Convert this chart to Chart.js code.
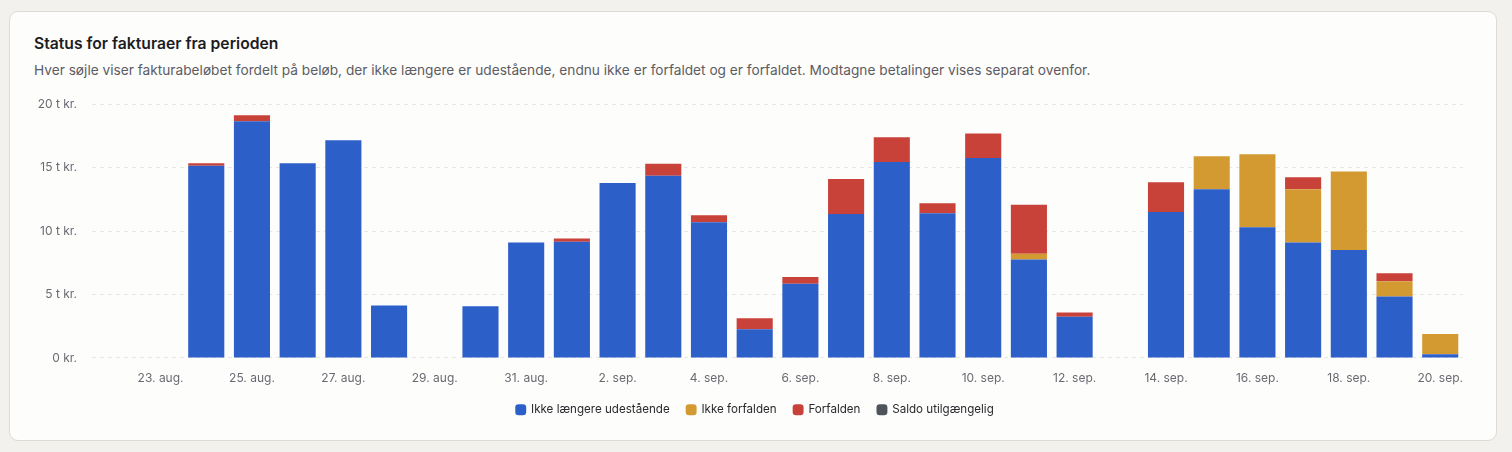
<!DOCTYPE html>
<html lang="da">
<head>
<meta charset="utf-8">
<title>Status for fakturaer fra perioden</title>
<script src="https://cdn.jsdelivr.net/npm/chart.js@4.4.1/dist/chart.umd.min.js"></script>
<style>
  html, body { margin: 0; padding: 0; }
  body {
    width: 1512px; height: 452px; background: #f3f1ed; position: relative;
    font-family: Inter, "Noto Sans", sans-serif; overflow: hidden;
  }
  .card {
    position: absolute; left: 9px; top: 11px; width: 1486px; height: 428px;
    background: #fdfdfc; border: 1px solid #dedbd5; border-radius: 9px;
  }
  h2 {
    position: absolute; left: 24px; top: 22px; margin: 0;
    font-size: 15.7px; font-weight: 600; color: #1c1c1e;
  }
  p.sub {
    position: absolute; left: 24px; top: 50px; margin: 0;
    font-size: 13.7px; color: #5c5c62;
  }
  .wrap { position: absolute; left: 24px; top: 69.5px; width: 1442px; height: 343.5px; }
</style>
</head>
<body>
<div class="card">
  <h2>Status for fakturaer fra perioden</h2>
  <p class="sub">Hver søjle viser fakturabeløbet fordelt på beløb, der ikke længere er udestående, endnu ikke er forfaldet og er forfaldet. Modtagne betalinger vises separat ovenfor.</p>
  <div class="wrap"><canvas id="chart"></canvas></div>
</div>
<script>
const days = [
  "22. aug.", "23. aug.", "24. aug.", "25. aug.", "26. aug.", "27. aug.", "28. aug.", "29. aug.", "30. aug.", "31. aug.",
  "1. sep.", "2. sep.", "3. sep.", "4. sep.", "5. sep.", "6. sep.", "7. sep.", "8. sep.", "9. sep.", "10. sep.",
  "11. sep.", "12. sep.", "13. sep.", "14. sep.", "15. sep.", "16. sep.", "17. sep.", "18. sep.", "19. sep.", "20. sep."
];
// amounts in kr.
const settled = [
  0, 0, 15150, 18650, 15350, 17150, 4130, 0, 4070, 9100,
  9150, 13790, 14350, 10700, 2250, 5850, 11350, 15450, 11400, 15750,
  7750, 3250, 0, 11500, 13300, 10300, 9100, 8500, 4850, 280
];
const notDue = [
  0, 0, 0, 0, 0, 0, 0, 0, 0, 0,
  0, 0, 0, 0, 0, 0, 0, 0, 0, 0,
  470, 0, 0, 0, 2600, 5750, 4200, 6200, 1200, 1600
];
const overdue = [
  0, 0, 200, 470, 0, 0, 0, 0, 0, 0,
  270, 0, 950, 550, 870, 520, 2750, 1950, 800, 1950,
  3850, 330, 0, 2350, 0, 0, 950, 0, 620, 0
];
const unavailable = new Array(days.length).fill(0);

const seriesNames = ["Ikke længere udestående", "Ikke forfalden", "Forfalden", "Saldo utilgængelig"];
const seriesColors = ["#2c5fc8", "#d49a32", "#c8423a", "#4f545c"];
const yTicks = [0, 5000, 10000, 15000, 20000];

const tickColor = "#6a6a72";
const gridColor = "#e9e7e3";

new Chart(document.getElementById("chart"), {
  type: "bar",
  data: {
    labels: days,
    datasets: [settled, notDue, overdue, unavailable].map((d, i) => ({
      label: seriesNames[i],
      data: d,
      backgroundColor: seriesColors[i],
      borderWidth: 0,
      barPercentage: 0.79,
      categoryPercentage: 1
    }))
  },
  options: {
    responsive: true,
    maintainAspectRatio: false,
    animation: false,
    layout: { padding: { top: 0, right: 0 } },
    plugins: {
      tooltip: { enabled: false },
      legend: {
        position: "bottom",
        labels: {
          usePointStyle: true,
          pointStyle: "rectRounded",
          boxWidth: 9,
          boxHeight: 9,
          padding: 17,
          color: "#2a2a2e",
          font: { family: "Inter, 'Noto Sans', sans-serif", size: 11.6 }
        }
      }
    },
    scales: {
      x: {
        stacked: true,
        afterFit: (s) => { s.height = 29; },
        grid: { display: false, drawTicks: false },
        border: { display: false },
        ticks: {
          autoSkip: false,
          maxRotation: 0,
          padding: 13,
          color: tickColor,
          font: { family: "Inter, 'Noto Sans', sans-serif", size: 12 },
          callback: (v, i) => (i % 2 === 1 ? days[i] : "")
        }
      },
      y: {
        stacked: true,
        min: 0,
        max: yTicks[yTicks.length - 1],
        afterFit: (s) => { s.width = 58; },
        afterBuildTicks: (s) => { s.ticks = yTicks.map((v) => ({ value: v })); },
        grid: { color: gridColor, drawTicks: false, lineWidth: 1 },
        border: { display: false, dash: [4, 4] },
        ticks: {
          padding: 15,
          color: tickColor,
          font: { family: "Inter, 'Noto Sans', sans-serif", size: 12 },
          callback: (v) => (v === 0 ? "0 kr." : v / 1000 + " t kr.")
        }
      }
    }
  }
});
</script>
</body>
</html>
